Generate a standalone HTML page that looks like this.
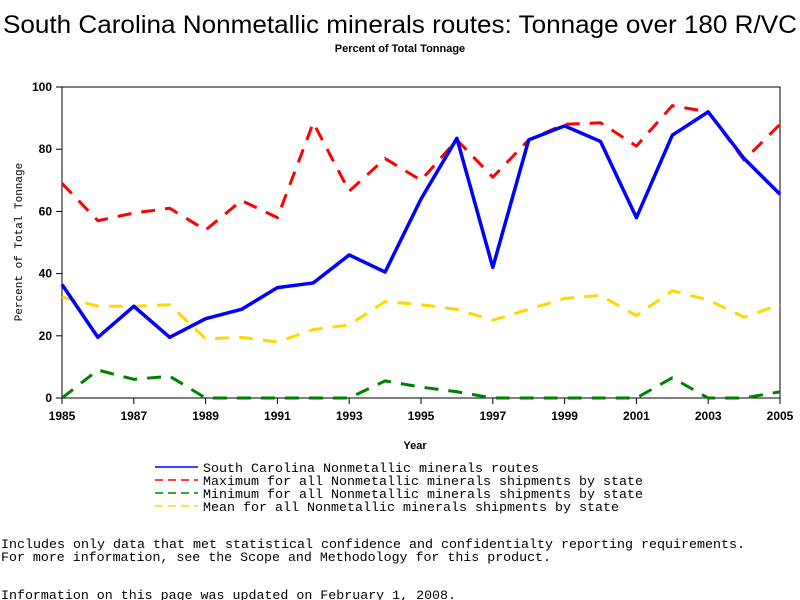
<!DOCTYPE html>
<html><head><meta charset="utf-8"><style>
body{margin:0;background:#fff;}
svg{display:block;}
text{font-family:"Liberation Sans",sans-serif;}
.mono{font-family:"Liberation Mono",monospace;}
</style></head><body>
<svg id="chart" width="800" height="600" xmlns="http://www.w3.org/2000/svg">
<text x="3" y="33" font-size="25" textLength="794" lengthAdjust="spacingAndGlyphs">South Carolina Nonmetallic minerals routes: Tonnage over 180 R/VC</text>
<text x="400" y="52" text-anchor="middle" font-size="11" font-weight="bold">Percent of Total Tonnage</text>
<text x="415" y="449" text-anchor="middle" font-size="11" font-weight="bold">Year</text>
<text transform="translate(22,242) rotate(-90)" text-anchor="middle" font-size="11" class="mono">Percent of Total Tonnage</text>
<rect x="62" y="87" width="718" height="311" fill="none" stroke="#000" stroke-width="1"/>
<g id="axes"></g>
<g id="series"></g>
<g>
<line x1="155" y1="467" x2="198" y2="467" stroke="#0000ff" stroke-width="1.5"/>
<text x="203" y="472" class="mono" font-size="13.3" textLength="336" lengthAdjust="spacingAndGlyphs">South Carolina Nonmetallic minerals routes</text>
<line x1="155" y1="480" x2="198" y2="480" stroke="#ff0000" stroke-width="1.5" stroke-dasharray="8,5"/>
<text x="203" y="485" class="mono" font-size="13.3" textLength="440" lengthAdjust="spacingAndGlyphs">Maximum for all Nonmetallic minerals shipments by state</text>
<line x1="155" y1="493" x2="198" y2="493" stroke="#008000" stroke-width="1.5" stroke-dasharray="8,5"/>
<text x="203" y="498" class="mono" font-size="13.3" textLength="440" lengthAdjust="spacingAndGlyphs">Minimum for all Nonmetallic minerals shipments by state</text>
<line x1="155" y1="506" x2="198" y2="506" stroke="#ffd700" stroke-width="1.5" stroke-dasharray="8,5"/>
<text x="203" y="511" class="mono" font-size="13.3" textLength="416" lengthAdjust="spacingAndGlyphs">Mean for all Nonmetallic minerals shipments by state</text>
</g>
<text x="1" y="548" class="mono" font-size="13.3" textLength="744" lengthAdjust="spacingAndGlyphs">Includes only data that met statistical confidence and confidentialty reporting requirements.</text>
<text x="1" y="561" class="mono" font-size="13.3" textLength="550" lengthAdjust="spacingAndGlyphs">For more information, see the Scope and Methodology for this product.</text>
<text x="1" y="599" class="mono" font-size="13.3" textLength="455" lengthAdjust="spacingAndGlyphs">Information on this page was updated on February 1, 2008.</text>
</svg>
<script>
const years=[1985,1986,1987,1988,1989,1990,1991,1992,1993,1994,1995,1996,1997,1998,1999,2000,2001,2002,2003,2004,2005];
const scValues=[36.5,19.5,29.5,19.5,25.5,28.5,35.5,37,46,40.5,64,83.5,42,83,87.5,82.5,58,84.5,92,77,65.5];
const maxValues=[69,57,59.5,61,54,63.5,58,88.5,66.5,77,70,83,71,83,88,88.5,81,94,92,76.5,88];
const minValues=[0,9,6,7,0,0,0,0,0,5.5,3.5,2,0,0,0,0,0,6.5,0,0,2];
const meanValues=[32.5,29.5,29.5,30,19,19.5,18,22,23.5,31,30,28.5,25,28.5,32,33,26.5,34.5,31.5,26,30];
const xTicks=[1985,1987,1989,1991,1993,1995,1997,1999,2001,2003,2005];
const yTicks=[0,20,40,60,80,100];
const NS="http://www.w3.org/2000/svg";
const X=v=>62+(v-1985)*(718/20);
const Y=v=>398-v*3.11;
const axes=document.getElementById('axes');
function mk(tag,attrs,parent){const e=document.createElementNS(NS,tag);for(const k in attrs)e.setAttribute(k,attrs[k]);parent.appendChild(e);return e;}
xTicks.forEach(t=>{
  const l=mk('line',{x1:X(t),x2:X(t),y1:398,y2:404,stroke:'#000'},axes);
  
  
  const tx=mk('text',{x:X(t),y:420,'text-anchor':'middle','font-size':'12','font-weight':'bold'},axes);
  tx.textContent=t;
  
  
});
yTicks.forEach(t=>{
  const l=mk('line',{x1:56,x2:62,y1:Y(t),y2:Y(t),stroke:'#000'},axes);
  
  
  const tx=mk('text',{x:52,y:Y(t)+4,'text-anchor':'end','font-size':'12','font-weight':'bold'},axes);
  tx.textContent=t;
  
  
});
const sg=document.getElementById('series');
function draw(vals,color,w,dash,name){
  const pts=vals.map((v,i)=>X(years[i])+','+Y(v)).join(' ');
  const p=mk('polyline',{points:pts,fill:'none',stroke:color,'stroke-width':w,'stroke-linejoin':'round'},sg);
  if(dash)p.setAttribute('stroke-dasharray',dash);
  
  
}
draw(meanValues,'#ffd700',3,'14,10','series-mean');
draw(minValues,'#008000',3,'14,10','series-min');
draw(maxValues,'#ff0000',3,'14,10','series-max');
draw(scValues,'#0000ff',3.5,null,'series-south-carolina');
</script>
</body></html>
